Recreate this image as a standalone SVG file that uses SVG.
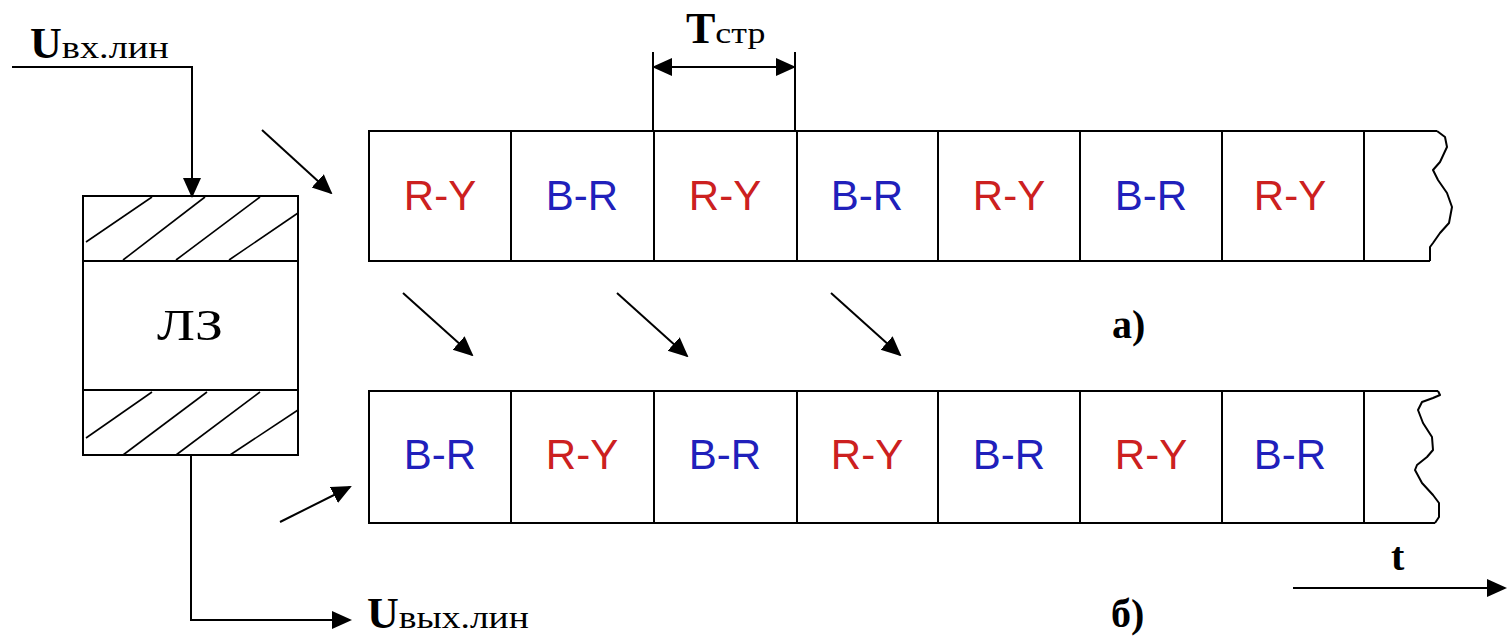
<svg xmlns="http://www.w3.org/2000/svg" width="1507" height="640" viewBox="0 0 1507 640">
<defs>
<marker id="ah" markerWidth="20" markerHeight="20" refX="18" refY="10" orient="auto" markerUnits="userSpaceOnUse" viewBox="0 0 20 20">
<path d="M0,1 L20,10 L0,19 Z" fill="#000"/>
</marker>
<marker id="ahs" markerWidth="20" markerHeight="20" refX="2" refY="10" orient="auto" markerUnits="userSpaceOnUse" viewBox="0 0 20 20">
<path d="M20,1 L0,10 L20,19 Z" fill="#000"/>
</marker>
</defs>
<style>
.ln{stroke:#000;stroke-width:2;fill:none}
.thin{stroke:#000;stroke-width:1.6;fill:none}
.cell{fill:#fff;stroke:#000;stroke-width:2}
.ry{font-family:"Liberation Sans",Arial,sans-serif;font-size:42px;fill:#cc2020;text-anchor:middle}
.br{font-family:"Liberation Sans",Arial,sans-serif;font-size:42px;fill:#2020bb;text-anchor:middle}
.ser{font-family:"Liberation Serif","Times New Roman",serif;fill:#000}
</style>
<rect width="1507" height="640" fill="#fff"/>

<g id="delay-line">
<rect x="83" y="196" width="215" height="259" class="ln"/>
<line x1="83" y1="261" x2="298" y2="261" class="ln"/>
<line x1="83" y1="390" x2="298" y2="390" class="ln"/>
<g class="thin">
<line x1="86" y1="242" x2="152" y2="197"/>
<line x1="123" y1="260" x2="205" y2="197"/>
<line x1="176" y1="260" x2="260" y2="197"/>
<line x1="229" y1="260" x2="298" y2="213"/>
<line x1="86" y1="438" x2="152" y2="392"/>
<line x1="123" y1="455" x2="207" y2="392"/>
<line x1="176" y1="455" x2="260" y2="392"/>
<line x1="230" y1="455" x2="298" y2="410"/>
</g>
<text x="190" y="340" class="ser" font-size="44" text-anchor="middle" textLength="66" lengthAdjust="spacingAndGlyphs">ЛЗ</text>
</g>

<g id="row-a">
<path d="M1437,131 L369,131 L369,261 L1430,261" class="ln"/>
<polyline class="ln" stroke-linejoin="round" points="1437,131 1445,137 1447,147 1440,162 1433,170 1438,180 1447,193 1452,207 1449,223 1440,233 1433,243 1430,247 1430,261"/>
<g class="ln">
<line x1="511" y1="131" x2="511" y2="261"/>
<line x1="654" y1="131" x2="654" y2="261"/>
<line x1="797" y1="131" x2="797" y2="261"/>
<line x1="938" y1="131" x2="938" y2="261"/>
<line x1="1080" y1="131" x2="1080" y2="261"/>
<line x1="1222" y1="131" x2="1222" y2="261"/>
<line x1="1364" y1="131" x2="1364" y2="261"/>
</g>
<text x="440" y="210" class="ry">R-Y</text>
<text x="582" y="210" class="br">B-R</text>
<text x="725" y="210" class="ry">R-Y</text>
<text x="867" y="210" class="br">B-R</text>
<text x="1009" y="210" class="ry">R-Y</text>
<text x="1151" y="210" class="br">B-R</text>
<text x="1290" y="210" class="ry">R-Y</text>
</g>

<g id="row-b">
<path d="M1438,391 L369,391 L369,523 L1435,523" class="ln"/>
<polyline class="ln" stroke-linejoin="round" points="1438,391 1440,395 1433,398 1422,402 1418,410 1423,423 1432,437 1433,450 1427,457 1417,465 1415,470 1422,483 1433,495 1439,503 1439,517 1435,523"/>
<g class="ln">
<line x1="511" y1="391" x2="511" y2="523"/>
<line x1="654" y1="391" x2="654" y2="523"/>
<line x1="797" y1="391" x2="797" y2="523"/>
<line x1="938" y1="391" x2="938" y2="523"/>
<line x1="1080" y1="391" x2="1080" y2="523"/>
<line x1="1222" y1="391" x2="1222" y2="523"/>
<line x1="1364" y1="391" x2="1364" y2="523"/>
</g>
<text x="440" y="469" class="br">B-R</text>
<text x="582" y="469" class="ry">R-Y</text>
<text x="725" y="469" class="br">B-R</text>
<text x="867" y="469" class="ry">R-Y</text>
<text x="1009" y="469" class="br">B-R</text>
<text x="1151" y="469" class="ry">R-Y</text>
<text x="1290" y="469" class="br">B-R</text>
</g>

<g id="labels">
<text x="30" y="58" class="ser" font-size="44" font-weight="bold">U<tspan font-size="32" font-weight="normal" textLength="107" lengthAdjust="spacingAndGlyphs">вх.лин</tspan></text>
<text x="367" y="628" class="ser" font-size="44" font-weight="bold">U<tspan font-size="32" font-weight="normal" textLength="130" lengthAdjust="spacingAndGlyphs">вых.лин</tspan></text>
<text x="686" y="43" class="ser" font-size="44" font-weight="bold">T<tspan font-size="30" font-weight="normal" textLength="50" lengthAdjust="spacingAndGlyphs">стр</tspan></text>
<text x="1112" y="338" class="ser" font-size="40" font-weight="bold">а)</text>
<text x="1111" y="627" class="ser" font-size="40" font-weight="bold">б)</text>
<text x="1391" y="570" class="ser" font-size="40" font-weight="bold">t</text>
</g>

<g id="connectors">
<path d="M12,67 L192,67 L192,196" class="ln" marker-end="url(#ah)"/>
<path d="M191,455 L191,620 L350,620" class="ln" marker-end="url(#ah)"/>
<line x1="653" y1="52" x2="653" y2="131" class="ln"/>
<line x1="795" y1="52" x2="795" y2="131" class="ln"/>
<line x1="654" y1="67" x2="794" y2="67" class="ln" marker-start="url(#ahs)" marker-end="url(#ah)"/>
<line x1="1293" y1="588" x2="1505" y2="588" class="ln" marker-end="url(#ah)"/>
<line x1="262" y1="130" x2="331" y2="193" class="ln" marker-end="url(#ah)"/>
<line x1="403" y1="293" x2="472" y2="355" class="ln" marker-end="url(#ah)"/>
<line x1="617" y1="293" x2="687" y2="356" class="ln" marker-end="url(#ah)"/>
<line x1="831" y1="293" x2="900" y2="355" class="ln" marker-end="url(#ah)"/>
<line x1="280" y1="522" x2="350" y2="487" class="ln" marker-end="url(#ah)"/>
</g>
</svg>
